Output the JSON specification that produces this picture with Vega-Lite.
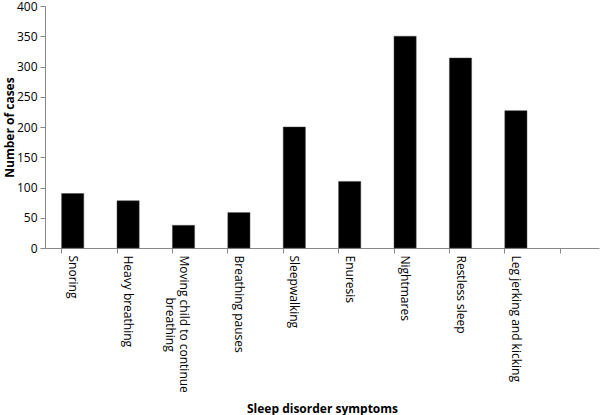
{
  "$schema": "https://vega.github.io/schema/vega-lite/v6.json",
  "width": 554,
  "height": 242,
  "autosize": "none",
  "padding": {"left": 45, "top": 6, "right": 1, "bottom": 167},
  "background": "white",
  "config": {
    "view": {"stroke": null},
    "font": "Open Sans"
  },
  "data": {
    "values": [
      {"symptom": "Snoring", "cases": 90},
      {"symptom": "Heavy breathing", "cases": 78},
      {"symptom": "Moving child to continue breathing", "cases": 37.5},
      {"symptom": "Breathing pauses", "cases": 58.5},
      {"symptom": "Sleepwalking", "cases": 200},
      {"symptom": "Enuresis", "cases": 110},
      {"symptom": "Nightmares", "cases": 350},
      {"symptom": "Restless sleep", "cases": 314},
      {"symptom": "Leg jerking and kicking", "cases": 227}
    ]
  },
  "mark": {"type": "bar", "color": "black", "stroke": "#444", "strokeWidth": 0.5},
  "encoding": {
    "x": {
      "field": "symptom",
      "type": "nominal",
      "sort": null,
      "scale": {
        "domain": ["Snoring", "Heavy breathing", "Moving child to continue breathing", "Breathing pauses", "Sleepwalking", "Enuresis", "Nightmares", "Restless sleep", "Leg jerking and kicking", "_blank"],
        "paddingInner": 0.6,
        "paddingOuter": 0.3
      },
      "axis": {
        "title": "Sleep disorder symptoms",
        "titleFont": "Open Sans",
        "titleFontSize": 12,
        "titleFontWeight": "bold",
        "titleColor": "black",
        "titleBaseline": "middle",
        "titleY": 160,
        "labelAngle": 90,
        "labelAlign": "left",
        "labelBaseline": "middle",
        "labelFontSize": 12,
        "labelColor": "black",
        "labelPadding": 2,
        "labelExpr": "datum.value == '_blank' ? '' : (datum.value == 'Moving child to continue breathing' ? ['Moving child to continue', '\u200b\u2003\u2003\u2003\u2002breathing'] : datum.value)",
        "bandPosition": 0,
        "tickSize": 5,
        "tickColor": "#888",
        "domainColor": "#888",
        "labelLimit": 300
      }
    },
    "y": {
      "field": "cases",
      "type": "quantitative",
      "scale": {"domain": [0, 400]},
      "axis": {
        "title": "Number of cases",
        "titleFontSize": 12,
        "titleFontWeight": "bold",
        "titleColor": "black",
        "titleX": -36,
        "titleBaseline": "middle",
        "values": [0, 50, 100, 150, 200, 250, 300, 350, 400],
        "labelFontSize": 12,
        "labelColor": "black",
        "labelPadding": 3,
        "grid": false,
        "tickSize": 5,
        "tickColor": "#888",
        "domainColor": "#888"
      }
    }
  }
}
